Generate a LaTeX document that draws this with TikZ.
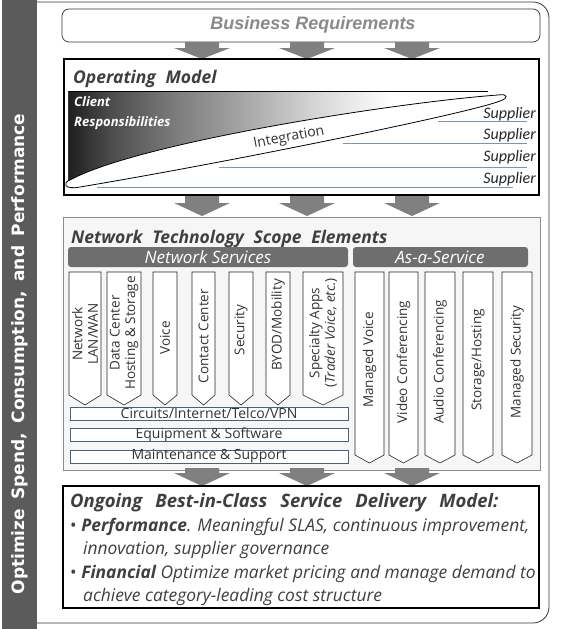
\documentclass[tikz,border=0pt]{standalone}
\usepackage{fontspec}
\setmainfont{Open Sans}
\newfontfamily\carl{Carlito}
\newfontfamily\lib{Liberation Sans}
\newfontfamily\dv{DejaVu Sans}
\definecolor{barcol}{HTML}{5B5B5B}
\definecolor{arrowgray}{HTML}{808080}
\definecolor{hdrcol}{HTML}{6E6E6E}
\definecolor{titlecol}{HTML}{3F3F3F}
\definecolor{netfill}{HTML}{F6F6F6}
\definecolor{netdraw}{HTML}{8C8C8C}
\definecolor{suplines}{HTML}{7A97AE}
\definecolor{bardraw}{HTML}{46627E}
\definecolor{bizcol}{HTML}{8A8A8A}
\definecolor{txtcol}{HTML}{333333}
\pgfdeclarehorizontalshading{crshade}{100bp}{color(0bp)=(black!88); color(25bp)=(black!88); color(30bp)=(black!70); color(37bp)=(black!52); color(45bp)=(black!35); color(53bp)=(black!17); color(62bp)=(white); color(100bp)=(white)}
\newcommand\fsz[1]{\fontsize{#1}{#1}\selectfont}
\newcommand\wsp{\hspace{0.55em}}
\newcommand\wwsp{\hspace{0.7em}}
\tikzset{
  chev/.style={draw=black!85, fill=white, line width=0.6pt},
  hbar/.style={draw=bardraw, fill=white, line width=0.7pt},
  chevtxt/.style={rotate=90, align=center, text=txtcol, font=\fontsize{13.5}{15.5}\selectfont, inner sep=0pt},
  bartxt/.style={text=txtcol, font=\fsz{14}, inner sep=0pt},
  suptxt/.style={anchor=base east, text=black!85, font=\carl\itshape\fsz{16}, inner sep=0pt},
  suplne/.style={draw=suplines, line width=0.7pt},
  hdrbar/.style={fill=hdrcol, rounded corners=3pt},
  hdrtxt/.style={text=white, font=\itshape\fsz{17}, inner sep=0pt},
  ttl/.style={anchor=base west, text=titlecol, font=\bfseries\itshape\fsz{17.5}, inner sep=0pt},
  btxt/.style={anchor=base west, text=titlecol, font=\itshape\fsz{17.4}, inner sep=0pt},
}
\newcommand\blockarrow[4]{\fill[arrowgray] (#1-17,#2) -- (#1+17,#2) -- (#1+17,#3) -- (#1+28,#3) -- (#1,#4) -- (#1-28,#3) -- (#1-17,#3) -- cycle;}
\newcommand\chevr[5]{\draw[chev] (#1,#3) -- (#2,#3) -- (#2,#4) -- ({(#1+#2)/2},#5) -- (#1,#4) -- cycle;}
\begin{document}
\begin{tikzpicture}[x=1pt,y=-1pt]
\useasboundingbox (0,0) rectangle (565,629);
\fill[white] (0,0) rectangle (565,629);
% outer frame
\draw[black!80, line width=0.8pt] (37,2) [rounded corners=16pt] -- (549,2) -- (549,623) -- (37,623);
% left bar
\fill[barcol] (2,0) rectangle (37,629);
\node[rotate=90, text=white, font=\dv\bfseries\fsz{17}, inner sep=0pt] (sidetxt) at (20,354) {Optimize\wsp Spend,\wsp Consumption,\wsp and\wsp Performance};
% business requirements
\draw[black!80, line width=0.7pt, rounded corners=7pt, fill=white] (62,9) rectangle (540,42);
\node[text=bizcol, font=\lib\bfseries\itshape\fsz{18}, inner sep=0pt] (biz) at (313,25) {Business Requirements};
% arrows row 1
\blockarrow{202}{42}{48}{59}
\blockarrow{307}{42}{48}{59}
\blockarrow{412}{42}{48}{59}
% operating model box
\draw[black, line width=2.4pt, fill=white] (64,59) rectangle (539,195);
\node[ttl] (opm) at (73,83) {Operating\wsp Model};
% gradient
\shade[shading=crshade] (68,91) -- (68,182) -- (70,180) .. controls (140,142) and (400,102) .. (498,95) -- (505,91) -- cycle;
\draw[black, line width=0.9pt] (68,91) -- (488,91);
\draw[black!80, line width=0.6pt] (68,91) -- (68,182);
% supplier lines
\draw[suplne] (438,121) -- (527,121);
\draw[suplne] (343,143) -- (527,143);
\draw[suplne] (219,167) -- (527,167);
\draw[suplne] (97,187) -- (513,187);
% lens
\draw[black, line width=0.8pt, fill=white] (70,180) .. controls (140,142) and (400,102) .. (498,95) .. controls (508,93.5) and (509,98) .. (500,101) .. controls (470,113) and (230,162) .. (80,187) .. controls (64,190) and (62,183) .. (70,180) -- cycle;
\node[text=txtcol, font=\fsz{14}, rotate=10.5, inner sep=0pt] (integ) at (289,138) {Integration};
\node[anchor=base west, text=white, font=\bfseries\itshape\fsz{13}, inner sep=0pt] (client) at (74,106) {Client};
\node[anchor=base west, text=white, font=\bfseries\itshape\fsz{13}, inner sep=0pt] (resp) at (74,126) {Responsibilities};
\node[suptxt] (s1) at (536,118) {Supplier};
\node[suptxt] (s2) at (536,139) {Supplier};
\node[suptxt] (s3) at (536,161) {Supplier};
\node[suptxt] (s4) at (536,183) {Supplier};
% arrows row 2
\blockarrow{202}{196}{203}{216}
\blockarrow{307}{196}{203}{216}
\blockarrow{412}{196}{203}{216}
% network technology box
\draw[draw=netdraw, fill=netfill, line width=0.7pt] (63,217) rectangle (540,470);
\node[ttl] (nts) at (71,243) {Network\wsp Technology\wsp Scope\wsp Elements};
\fill[hdrbar] (68,247) rectangle (348,267);
\fill[hdrbar] (353,247) rectangle (528,267);
\node[hdrtxt] (nsh) at (208,257) {Network Services};
\node[hdrtxt] (aash) at (440,257) {As-a-Service};
% network services chevrons
\chevr{69}{101}{272}{395}{405}
\chevr{107}{141}{272}{395}{405}
\chevr{153}{177}{272}{395}{405}
\chevr{192}{215}{272}{395}{405}
\chevr{229}{253}{272}{395}{405}
\chevr{266}{290}{272}{395}{405}
\chevr{303}{343}{272}{395}{405}
\node[chevtxt] (c1) at (85,334) {Network\\LAN/WAN};
\node[chevtxt] (c2) at (124,333) {Data Center\\Hosting \& Storage};
\node[chevtxt] (c3) at (165,338) {Voice};
\node[chevtxt] (c4) at (203.5,336) {Contact Center};
\node[chevtxt] (c5) at (241,330) {Security};
\node[chevtxt] (c6) at (278,325) {BYOD/Mobility};
\node[chevtxt] (c7) at (323,333) {Specialty Apps\\(\textit{Trader Voice, etc.})};
% as-a-service chevrons
\chevr{355}{384}{272}{455}{463}
\chevr{389}{418}{272}{455}{463}
\chevr{425}{455}{272}{455}{463}
\chevr{463}{493}{272}{455}{463}
\chevr{502}{532}{272}{455}{463}
\node[chevtxt] (a1) at (369.5,360) {Managed Voice};
\node[chevtxt] (a2) at (403.5,362) {Video Conferencing};
\node[chevtxt] (a3) at (440,362) {Audio Conferencing};
\node[chevtxt] (a4) at (478,360) {Storage/Hosting};
\node[chevtxt] (a5) at (517,362) {Managed Security};
% horizontal bars
\draw[hbar] (70,407) rectangle (348,420);
\draw[hbar] (70,428) rectangle (348,441);
\draw[hbar] (70,450) rectangle (348,463);
\node[bartxt] (b1) at (209,413.5) {Circuits/Internet/Telco/VPN};
\node[bartxt] (b2) at (209,434.5) {Equipment \& Software};
\node[bartxt] (b3) at (209,456.5) {Maintenance \& Support};
% arrows row 3
\blockarrow{202}{468}{473}{486}
\blockarrow{307}{468}{473}{486}
\blockarrow{412}{468}{473}{486}
% bottom box
\draw[black, line width=2.6pt, fill=white] (63,486) rectangle (539,608);
\node[ttl, font=\bfseries\itshape\fsz{18.5}] (ong) at (70,507) {Ongoing\wwsp Best-in-Class\wwsp Service\wwsp Delivery\wwsp Model:};
\node[btxt] (p1) at (70,531) {\textup{•} \textbf{Performance}. Meaningful SLAS, continuous improvement,};
\node[btxt] (p2) at (83,554) {innovation, supplier governance};
\node[btxt] (f1) at (70,578) {\textup{•} \textbf{Financial} Optimize market pricing and manage demand to};
\node[btxt] (f2) at (83,601) {achieve category-leading cost structure};
\end{tikzpicture}
\end{document}
